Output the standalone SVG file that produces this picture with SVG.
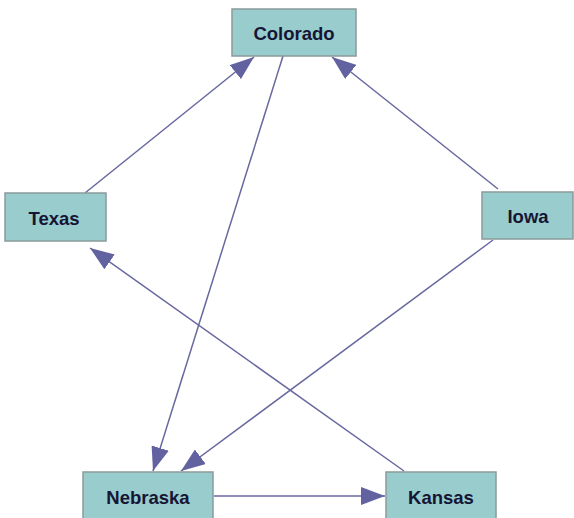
<svg xmlns="http://www.w3.org/2000/svg" width="574" height="518" viewBox="0 0 574 518">
<style>
.node rect{fill:#99cccc;stroke:#8a9a9a;stroke-width:1.5}
.node text{font-family:"Liberation Sans",Arial,sans-serif;font-weight:bold;font-size:18.5px;fill:#151535;text-anchor:middle;dominant-baseline:central}
.edge{stroke:#6868a0;stroke-width:1.5;fill:none;marker-end:url(#arr)}
</style>
<defs>
<marker id="arr" markerUnits="userSpaceOnUse" markerWidth="26" markerHeight="18" refX="24" refY="9" orient="auto">
<path d="M0,0 L24,9 L0,18 Z" fill="#6262a0"/>
</marker>
</defs>
<rect width="574" height="518" fill="#ffffff"/>
<g id="connectors">
<line class="edge" x1="85" y1="193" x2="254" y2="57"/>
<line class="edge" x1="283" y1="56" x2="153" y2="471"/>
<line class="edge" x1="498" y1="189" x2="332" y2="57"/>
<line class="edge" x1="493" y1="240" x2="181" y2="471"/>
<line class="edge" x1="404" y1="471" x2="90" y2="248"/>
<line class="edge" x1="214" y1="496" x2="385" y2="496"/>
</g>
<g id="colorado" class="node"><rect x="232" y="9" width="124" height="47"/><text x="294" y="33">Colorado</text></g>
<g id="texas" class="node"><rect x="5" y="193" width="101" height="48"/><text x="54" y="218">Texas</text></g>
<g id="iowa" class="node"><rect x="482" y="192" width="91" height="47"/><text x="528" y="216">Iowa</text></g>
<g id="nebraska" class="node"><rect x="83" y="472" width="130" height="50"/><text x="148" y="497">Nebraska</text></g>
<g id="kansas" class="node"><rect x="386" y="472" width="110" height="50"/><text x="441" y="497">Kansas</text></g>
</svg>
